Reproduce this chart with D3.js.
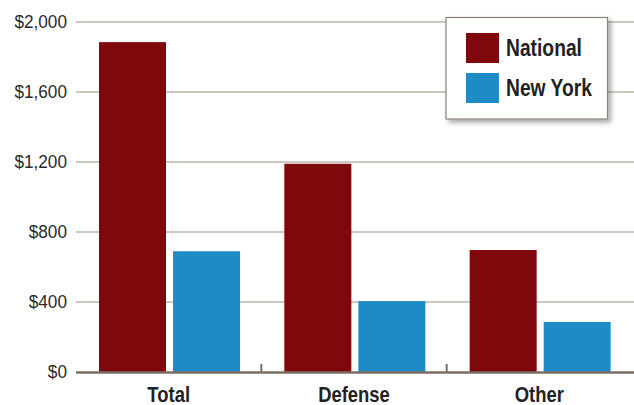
<!DOCTYPE html>
<html>
<head>
<meta charset="utf-8">
<script src="https://cdn.jsdelivr.net/npm/d3@7/dist/d3.min.js"></script>
<style>
  html, body { margin: 0; padding: 0; background: #fff; }
  svg { display: block; }
</style>
</head>
<body>
<svg id="chart" width="634" height="405"></svg>
<script>
// Spending by category, national vs New York (dollars)
const categories = ["Total", "Defense", "Other"];
const seriesNames = ["National", "New York"];
const nationalValues = [1885, 1190, 697];
const newYorkValues = [690, 405, 286];
const yTicks = [0, 400, 800, 1200, 1600, 2000];
const colors = ["#7e080b", "#1e8bc7"];

const svg = d3.select("#chart");
const W = 634, H = 405;
const plotLeft = 76, plotRight = 632, plotTop = 22, plotBottom = 372;
const condensed = "scale(0.82,1)";
const boldFont = "'Liberation Sans', Arial, sans-serif";

const x = d3.scaleBand().domain(categories).range([plotLeft, plotRight]).paddingInner(0).paddingOuter(0);
// two bars per category: 67px wide with a 7px gap, inset 23px from the band start
const xInner = d3.scaleBand().domain(seriesNames).range([23, 164])
  .paddingInner(7 / 74).paddingOuter(0);
const y = d3.scaleLinear().domain([0, 2000]).range([plotBottom, plotTop]);

const fmt = v => "$" + d3.format(",")(v);

// gridlines
svg.append("g").selectAll("line").data(yTicks.filter(d => d > 0)).join("line")
  .attr("x1", plotLeft).attr("x2", W)
  .attr("y1", d => y(d)).attr("y2", d => y(d))
  .attr("stroke", "#bdb6ae").attr("stroke-width", 1.3);

// y axis labels (slightly narrowed sans)
const yAxis = d3.axisLeft(y).tickValues(yTicks).tickFormat(fmt).tickSize(0).tickPadding(0);
const ya = svg.append("g").attr("transform", `translate(${plotLeft},0)`).call(yAxis);
ya.select(".domain").remove();
ya.selectAll("text")
  .attr("x", null)
  .attr("transform", "translate(-9,0) scale(0.93,1)")
  .attr("font-family", "'Liberation Sans', Arial, sans-serif")
  .attr("font-size", 18.5).attr("fill", "#2a2a2a");

// bars
const rows = categories.map((c, i) => ({ cat: c, vals: [nationalValues[i], newYorkValues[i]] }));
const groups = svg.append("g").selectAll("g").data(rows).join("g")
  .attr("transform", d => `translate(${x(d.cat)},0)`);
groups.selectAll("rect").data(d => d.vals.map((v, j) => ({ name: seriesNames[j], v, j })))
  .join("rect")
  .attr("x", d => xInner(d.name))
  .attr("width", xInner.bandwidth())
  .attr("y", d => y(d.v))
  .attr("height", d => y(0) - y(d.v))
  .attr("fill", d => colors[d.j]);

// baseline and category separators
svg.append("line").attr("x1", plotLeft).attr("x2", W).attr("y1", plotBottom + 0.5).attr("y2", plotBottom + 0.5)
  .attr("stroke", "#7a6f64").attr("stroke-width", 2.4);
svg.append("g").selectAll("line").data(categories.slice(1)).join("line")
  .attr("x1", d => x(d)).attr("x2", d => x(d))
  .attr("y1", plotBottom - 8).attr("y2", plotBottom)
  .attr("stroke", "#7a6f64").attr("stroke-width", 2);

// category labels
const xAxis = d3.axisBottom(x).tickSize(0).tickPadding(0);
const xa = svg.append("g").attr("transform", `translate(0,${plotBottom})`).call(xAxis);
xa.select(".domain").remove();
xa.selectAll("text")
  .attr("dy", null).attr("y", 30)
  .attr("transform", condensed)
  .attr("font-family", boldFont)
  .attr("font-weight", "bold").attr("font-size", 22.5).attr("fill", "#222");

// legend
const defs = svg.append("defs");
const f = defs.append("filter").attr("id", "shadow").attr("x", "-20%").attr("y", "-20%").attr("width", "150%").attr("height", "150%");
f.append("feDropShadow").attr("dx", 3).attr("dy", 3).attr("stdDeviation", 2.5)
  .attr("flood-color", "#000").attr("flood-opacity", 0.35);

const lg = svg.append("g").attr("transform", "translate(446,17.5)");
lg.append("rect").attr("width", 161.5).attr("height", 101.5)
  .attr("fill", "#fff").attr("stroke", "#8a8177").attr("stroke-width", 1.2)
  .attr("filter", "url(#shadow)");
const items = lg.selectAll("g.item").data(seriesNames).join("g")
  .attr("transform", (d, i) => `translate(20,${15.5 + i * 40})`);
items.append("rect").attr("width", 33).attr("height", 30).attr("fill", (d, i) => colors[i]);
items.append("text")
  .attr("transform", "translate(40,15) " + condensed)
  .attr("dy", "0.35em")
  .attr("font-family", boldFont)
  .attr("font-weight", "bold").attr("font-size", 23.5).attr("fill", "#222")
  .text(d => d);
</script>
</body>
</html>
